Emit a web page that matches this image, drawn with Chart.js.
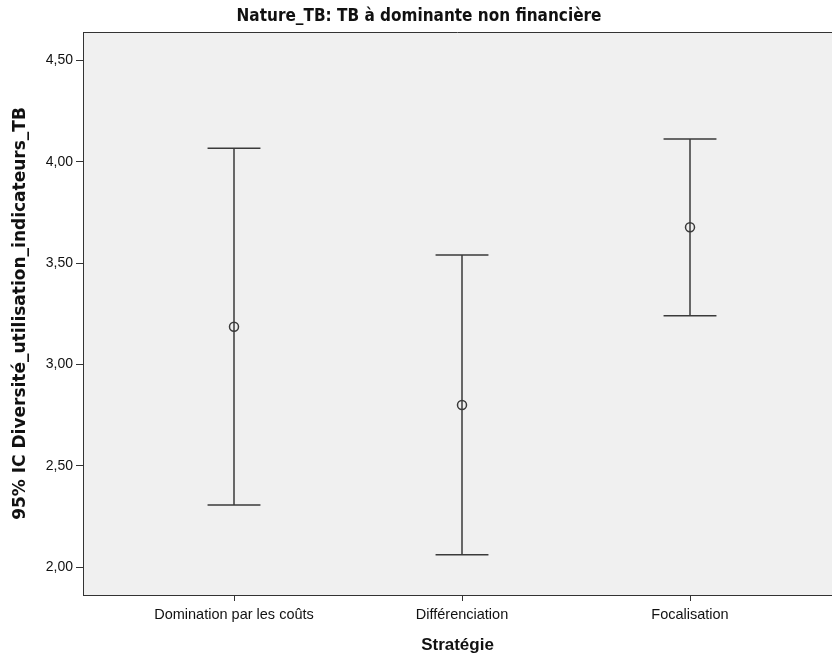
<!DOCTYPE html>
<html>
<head>
<meta charset="utf-8">
<script src="https://cdn.jsdelivr.net/npm/chart.js@4/dist/chart.umd.min.js"></script>
<style>
  html, body { margin: 0; padding: 0; background: #fff; overflow: hidden; width: 832px; height: 659px; }
</style>
</head>
<body>
<canvas id="errChart" width="838" height="659"></canvas>
<script>
// DATA
let chartTitle = 'Nature_TB: TB à dominante non financière';
let yTitle = '95% IC Diversité_utilisation_indicateurs_TB';
let xTitle = 'Stratégie';
let categories = ['Domination par les coûts', 'Différenciation', 'Focalisation'];
let means = [3.186, 2.800, 3.677];
let lowerCI = [2.307, 2.061, 3.241];
let upperCI = [4.066, 3.540, 4.112];
let yTicks = [2.00, 2.50, 3.00, 3.50, 4.00, 4.50];

let lineColor = '#3a3a3a';
let capHalf = 0.116;

// whiskers, caps, means
let datasets = [];
for (let i = 0; i < categories.length; i++) {
    datasets.push({
        type: 'line',
        data: [{x: i, y: lowerCI[i]}, {x: i, y: upperCI[i]}],
        borderColor: lineColor, borderWidth: 1.5, pointRadius: 0
    });
    datasets.push({
        type: 'line',
        data: [{x: i - capHalf, y: upperCI[i]}, {x: i + capHalf, y: upperCI[i]}],
        borderColor: lineColor, borderWidth: 1.5, pointRadius: 0
    });
    datasets.push({
        type: 'line',
        data: [{x: i - capHalf, y: lowerCI[i]}, {x: i + capHalf, y: lowerCI[i]}],
        borderColor: lineColor, borderWidth: 1.5, pointRadius: 0
    });
}
datasets.push({
    type: 'scatter',
    data: means.map((m, i) => ({x: i, y: m})),
    pointRadius: 4.5,
    pointBorderWidth: 1.5,
    pointBorderColor: lineColor,
    pointBackgroundColor: 'rgba(0,0,0,0)'
});

// grey plot background, top frame line
let framePlugin = {
    id: 'frame',
    beforeDraw(chart) {
        let a = chart.chartArea, ctx = chart.ctx;
        ctx.save();
        ctx.fillStyle = '#f0f0f0';
        ctx.fillRect(a.left, a.top, a.right - a.left, a.bottom - a.top);
        ctx.restore();
    },
    afterDraw(chart) {
        let a = chart.chartArea, ctx = chart.ctx;
        ctx.save();
        ctx.strokeStyle = '#333';
        ctx.lineWidth = 1;
        ctx.beginPath();
        ctx.moveTo(a.left, a.top + 0.5);
        ctx.lineTo(a.right, a.top + 0.5);
        ctx.stroke();
        ctx.restore();
    }
};

let ctx = document.getElementById('errChart').getContext('2d');
let chart = new Chart(ctx, {
    data: { datasets: datasets },
    options: {
        responsive: false,
        animation: false,
        layout: { padding: 0 },
        plugins: {
            legend: { display: false },
            tooltip: { enabled: false },
            title: {
                display: true,
                text: chartTitle,
                color: '#111',
                font: { family: 'DejaVu Sans Condensed', size: 17, weight: 'bold', lineHeight: 1.2 },
                padding: { top: 6, bottom: 5.6 }
            }
        },
        scales: {
            x: {
                type: 'linear',
                min: -0.6623,
                max: 2.6228,
                afterBuildTicks: (s) => { s.ticks = categories.map((c, i) => ({value: i})); },
                afterFit: (s) => { s.height = 64; },
                ticks: {
                    color: '#111',
                    padding: 5,
                    maxRotation: 0,
                    font: { family: 'Liberation Sans', size: 14.5 },
                    callback: (v) => categories[v]
                },
                grid: { drawOnChartArea: false, color: '#333', tickLength: 6 },
                border: { display: true, color: '#333' },
                title: {
                    display: true,
                    text: xTitle,
                    color: '#111',
                    font: { family: 'Liberation Sans', size: 17, weight: 'bold', lineHeight: 1.2 },
                    padding: { top: 3, bottom: 3 }
                }
            },
            y: {
                type: 'linear',
                min: 1.863,
                max: 4.64,
                afterBuildTicks: (s) => { s.ticks = yTicks.map(v => ({value: v})); },
                afterFit: (s) => { s.width = 83; },
                ticks: {
                    color: '#111',
                    padding: 3,
                    font: { family: 'Liberation Sans', size: 14 },
                    callback: (v) => v.toFixed(2).replace('.', ',')
                },
                grid: { drawOnChartArea: false, color: '#333', tickLength: 7 },
                border: { display: true, color: '#333' },
                title: {
                    display: true,
                    text: yTitle,
                    color: '#111',
                    font: { family: 'DejaVu Sans', size: 17, weight: 'bold', lineHeight: 1.2 },
                    padding: { top: 10, bottom: 10 }
                }
            }
        }
    },
    plugins: [framePlugin]
});
</script>
</body>
</html>
